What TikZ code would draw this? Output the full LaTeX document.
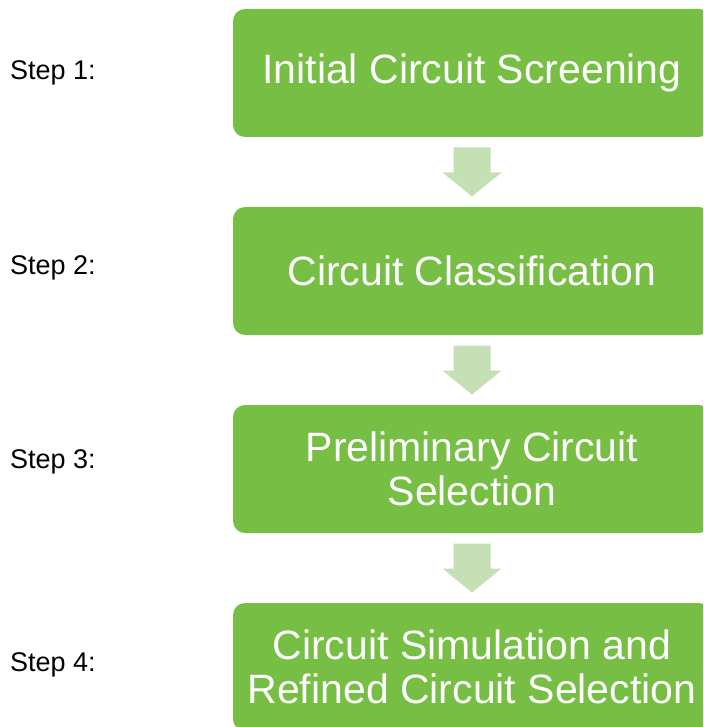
\documentclass[tikz,border=0pt]{standalone}
\usepackage{fontspec}
\setmainfont{Liberation Sans}
\usetikzlibrary{calc}
\definecolor{boxgreen}{RGB}{118,190,68}
\definecolor{arrowgreen}{RGB}{197,224,180}
\tikzset{
  stepbox/.style={fill=boxgreen, draw=none, rounded corners=12pt, minimum width=478pt, minimum height=128pt,
    text=white, align=center, font=\fontsize{41}{44}\selectfont, inner sep=0pt},
  steplabel/.style={anchor=west, font=\fontsize{27}{30}\selectfont, text=black, inner sep=0pt},
  blockarrow/.style={fill=arrowgreen, draw=none}
}
\newcommand{\blockarr}[1]{%
  \fill[blockarrow] (#1) ++(-18.5,-24.5) -- ++(37,0) -- ++(0,25) -- ++(11,0)
    -- ++(-29.5,24) -- ++(-29.5,-24) -- ++(11,0) -- cycle;}
\begin{document}
\begin{tikzpicture}[x=1pt,y={(0,-1pt)}]
\useasboundingbox (0,0) rectangle (703,727);
\clip (0,0) rectangle (703,727);
\fill[white] (0,0) rectangle (703,727);
\node[stepbox] (b1) at (472,73) {Initial Circuit Screening};
\node[stepbox] (b2) at (472,271) {Circuit Classification};
\node[stepbox] (b3) at (472,469) {Preliminary Circuit\\Selection};
\node[stepbox] (b4) at (472,667) {Circuit Simulation and\\Refined Circuit Selection};
\node[steplabel] (s1) at (10,73) {Step 1:};
\node[steplabel] (s2) at (10,268) {Step 2:};
\node[steplabel] (s3) at (10,462) {Step 3:};
\node[steplabel] (s4) at (10,665) {Step 4:};
\coordinate (a1) at ($(b1.south)!0.5!(b2.north)$);
\coordinate (a2) at ($(b2.south)!0.5!(b3.north)$);
\coordinate (a3) at ($(b3.south)!0.5!(b4.north)$);
\blockarr{a1}
\blockarr{a2}
\blockarr{a3}
\end{tikzpicture}
\end{document}
